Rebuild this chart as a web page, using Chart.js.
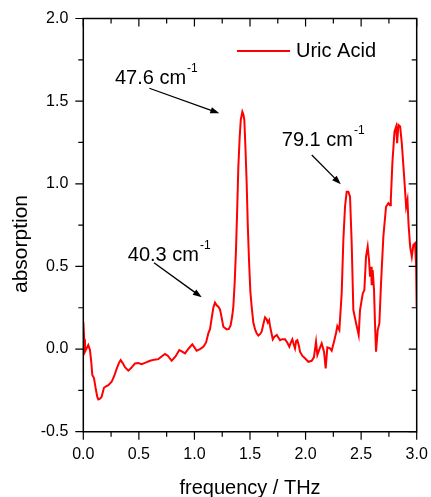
<!DOCTYPE html>
<html>
<head>
<meta charset="utf-8">
<script src="https://cdn.jsdelivr.net/npm/chart.js@4.4.1/dist/chart.umd.min.js"></script>
<style>
  html, body { margin: 0; padding: 0; background: #ffffff; }
  #wrap { width: 431px; height: 497px; }
</style>
</head>
<body>
<div id="wrap"><canvas id="c" width="431" height="497"></canvas></div>
<script>
// THz absorption spectrum of uric acid
const freqTHz = [
  0.000, 0.008, 0.015, 0.030, 0.045, 0.060, 0.072, 0.081, 0.096, 0.114,
  0.126, 0.135, 0.150, 0.165, 0.186, 0.205, 0.225, 0.255, 0.280, 0.300,
  0.320, 0.336, 0.355, 0.375, 0.405, 0.430, 0.465, 0.495, 0.525, 0.560,
  0.600, 0.640, 0.675, 0.705, 0.735, 0.760, 0.795, 0.830, 0.864, 0.890,
  0.915, 0.950, 0.981, 1.000, 1.020, 1.050, 1.080, 1.105, 1.125, 1.140,
  1.155, 1.170, 1.185, 1.200, 1.215, 1.230, 1.245, 1.260, 1.290, 1.310,
  1.326, 1.340, 1.350, 1.362, 1.374, 1.385, 1.395, 1.407, 1.417, 1.431,
  1.440, 1.449, 1.460, 1.470, 1.480, 1.491, 1.503, 1.515, 1.530, 1.545,
  1.560, 1.575, 1.590, 1.605, 1.620, 1.635, 1.650, 1.660, 1.672, 1.680,
  1.692, 1.705, 1.720, 1.741, 1.755, 1.770, 1.790, 1.815, 1.835, 1.854,
  1.868, 1.881, 1.893, 1.905, 1.915, 1.926, 1.940, 1.950, 1.970, 1.995,
  2.025, 2.055, 2.075, 2.094, 2.106, 2.125, 2.145, 2.166, 2.181, 2.196,
  2.220, 2.235, 2.259, 2.275, 2.286, 2.304, 2.325, 2.340, 2.355, 2.370,
  2.385, 2.400, 2.415, 2.430, 2.455, 2.478, 2.490, 2.515, 2.529, 2.544,
  2.559, 2.571, 2.580, 2.589, 2.595, 2.604, 2.616, 2.625, 2.634, 2.649,
  2.664, 2.679, 2.700, 2.724, 2.745, 2.760, 2.767, 2.781, 2.800, 2.815,
  2.824, 2.835, 2.851, 2.866, 2.887, 2.905, 2.917, 2.926, 2.941, 2.956,
  2.970, 2.985, 2.995, 3.000
];
const absorption = [
  0.165, 0.060, -0.016, 0.005, 0.024, -0.006, -0.080, -0.157, -0.175, -0.248,
  -0.290, -0.305, -0.300, -0.289, -0.234, -0.225, -0.218, -0.198, -0.160, -0.120,
  -0.085, -0.067, -0.085, -0.110, -0.131, -0.115, -0.087, -0.085, -0.091, -0.082,
  -0.071, -0.064, -0.061, -0.045, -0.030, -0.040, -0.071, -0.045, -0.006, -0.015,
  -0.026, 0.005, 0.028, 0.010, -0.010, 0.000, 0.014, 0.040, 0.095, 0.120,
  0.186, 0.250, 0.281, 0.265, 0.256, 0.240, 0.190, 0.135, 0.119, 0.122,
  0.145, 0.200, 0.256, 0.400, 0.600, 0.850, 1.100, 1.280, 1.386, 1.436,
  1.420, 1.386, 1.200, 1.003, 0.750, 0.539, 0.350, 0.256, 0.160, 0.120,
  0.095, 0.082, 0.090, 0.105, 0.150, 0.192, 0.180, 0.160, 0.175, 0.140,
  0.100, 0.059, 0.075, 0.085, 0.070, 0.054, 0.060, 0.059, 0.040, 0.014,
  0.040, 0.059, 0.030, 0.004, 0.048, 0.054, 0.020, -0.016, -0.040, -0.056,
  -0.077, -0.071, -0.050, 0.044, -0.036, 0.000, 0.034, -0.016, -0.117, 0.010,
  0.004, -0.010, 0.054, 0.100, 0.139, 0.115, 0.337, 0.660, 0.861, 0.952,
  0.952, 0.922, 0.640, 0.236, 0.155, 0.085, 0.236, 0.337, 0.357, 0.559,
  0.620, 0.539, 0.438, 0.498, 0.387, 0.478, 0.357, 0.150, -0.016, 0.115,
  0.155, 0.398, 0.680, 0.861, 0.882, 0.870, 0.902, 1.124, 1.315, 1.346,
  1.245, 1.356, 1.346, 1.245, 1.043, 0.861, 0.902, 0.761, 0.620, 0.559,
  0.630, 0.640, 0.500, 0.256
];
const xTicks = [0, 0.5, 1.0, 1.5, 2.0, 2.5, 3.0];
const yTicks = [-0.5, 0, 0.5, 1.0, 1.5, 2.0];
const peakLabels = ['40.3', '47.6', '79.1'];
const seriesName = 'Uric Acid';

// label placement and arrow ends, in axis units
const notes = [
  { text: peakLabels[0], at: [0.40, 0.530], from: [0.636, 0.522], to: [1.066, 0.313] },
  { text: peakLabels[1], at: [0.285, 1.604], from: [0.594, 1.578], to: [1.224, 1.427] },
  { text: peakLabels[2], at: [1.786, 1.226], from: [2.056, 1.174], to: [2.317, 0.997] }
];

const FONT = "'Liberation Sans', Arial, sans-serif";
const points = freqTHz.map((f, i) => ({ x: f, y: absorption[i] }));

// frame, mirrored ticks, titles, legend and peak notes
const decor = {
  id: 'decor',
  afterDraw(chart) {
    const { ctx, chartArea: a, scales: { x, y } } = chart;
    ctx.save();
    ctx.strokeStyle = '#000';
    ctx.lineWidth = 1.5;
    ctx.beginPath();
    ctx.rect(a.left, a.top, a.right - a.left, a.bottom - a.top);
    ctx.stroke();

    ctx.lineWidth = 1.2;
    ctx.beginPath();
    for (let v = 0; v <= 3.0001; v += 0.25) {
      const px = x.getPixelForValue(v);
      const len = Math.abs(v * 2 - Math.round(v * 2)) < 1e-6 ? 8 : 5;
      ctx.moveTo(px, a.bottom); ctx.lineTo(px, a.bottom + len);
      ctx.moveTo(px, a.top); ctx.lineTo(px, a.top + len);
    }
    for (let v = -0.5; v <= 2.0001; v += 0.25) {
      const py = y.getPixelForValue(v);
      const len = Math.abs(v * 2 - Math.round(v * 2)) < 1e-6 ? 8 : 5;
      ctx.moveTo(a.left, py); ctx.lineTo(a.left - len, py);
      ctx.moveTo(a.right, py); ctx.lineTo(a.right - len, py);
    }
    ctx.stroke();

    // axis titles
    ctx.fillStyle = '#000';
    ctx.font = '20px ' + FONT;
    ctx.textAlign = 'center';
    ctx.textBaseline = 'alphabetic';
    ctx.fillText('frequency / THz', (a.left + a.right) / 2, 494);
    ctx.save();
    ctx.translate(27, 244);
    ctx.rotate(-Math.PI / 2);
    ctx.font = '21px ' + FONT;
    ctx.fillText('absorption', 0, 0);
    ctx.restore();

    // legend
    const ds = chart.data.datasets[0];
    ctx.strokeStyle = ds.borderColor;
    ctx.lineWidth = 2;
    ctx.beginPath();
    ctx.moveTo(237, 51); ctx.lineTo(290, 51);
    ctx.stroke();
    ctx.textAlign = 'left';
    ctx.textBaseline = 'middle';
    ctx.fillText(ds.label, 296, 51);

    // peak notes with arrows
    ctx.textBaseline = 'alphabetic';
    notes.forEach(n => {
      const tx = x.getPixelForValue(n.at[0]);
      const ty = y.getPixelForValue(n.at[1]);
      ctx.font = '20px ' + FONT;
      const main = n.text + ' cm';
      ctx.fillText(main, tx, ty);
      const w = ctx.measureText(main).width;
      ctx.font = '12px ' + FONT;
      ctx.fillText('-1', tx + w + 1, ty - 12);

      const x0 = x.getPixelForValue(n.from[0]), y0 = y.getPixelForValue(n.from[1]);
      const x1 = x.getPixelForValue(n.to[0]), y1 = y.getPixelForValue(n.to[1]);
      const ang = Math.atan2(y1 - y0, x1 - x0);
      const hl = 9, hw = 3.2;
      ctx.strokeStyle = '#000';
      ctx.lineWidth = 1.3;
      ctx.beginPath();
      ctx.moveTo(x0, y0);
      ctx.lineTo(x1 - Math.cos(ang) * hl * 0.8, y1 - Math.sin(ang) * hl * 0.8);
      ctx.stroke();
      ctx.beginPath();
      ctx.moveTo(x1, y1);
      ctx.lineTo(x1 - Math.cos(ang) * hl - Math.sin(ang) * hw, y1 - Math.sin(ang) * hl + Math.cos(ang) * hw);
      ctx.lineTo(x1 - Math.cos(ang) * hl + Math.sin(ang) * hw, y1 - Math.sin(ang) * hl - Math.cos(ang) * hw);
      ctx.closePath();
      ctx.fillStyle = '#000';
      ctx.fill();
    });
    ctx.restore();
  }
};

new Chart(document.getElementById('c'), {
  type: 'scatter',
  data: {
    datasets: [{
      label: seriesName,
      data: points,
      showLine: true,
      borderColor: '#ff0000',
      borderWidth: 2,
      pointRadius: 0,
      tension: 0,
      fill: false
    }]
  },
  options: {
    responsive: false,
    devicePixelRatio: 1,
    animation: false,
    layout: { padding: { top: 18.5, right: 14.3, left: 0, bottom: 0 } },
    plugins: { legend: { display: false }, tooltip: { enabled: false } },
    scales: {
      x: {
        type: 'linear', min: 0, max: 3,
        afterBuildTicks: s => { s.ticks = xTicks.map(v => ({ value: v })); },
        afterFit: s => { s.height = 65.3; s.paddingLeft = 0; s.paddingRight = 0; },
        grid: { display: false, drawTicks: false },
        border: { display: false },
        ticks: {
          padding: 13, color: '#000', maxRotation: 0,
          font: { family: FONT, size: 16 },
          callback: v => Number(v).toFixed(1)
        }
      },
      y: {
        type: 'linear', min: -0.5, max: 2.0,
        afterBuildTicks: s => { s.ticks = yTicks.map(v => ({ value: v })); },
        afterFit: s => { s.width = 83.3; s.paddingTop = 0; s.paddingBottom = 0; },
        grid: { display: false, drawTicks: false },
        border: { display: false },
        ticks: {
          padding: 15, color: '#000',
          font: { family: FONT, size: 16 },
          callback: v => Number(v).toFixed(1)
        }
      }
    }
  },
  plugins: [decor]
});
</script>
</body>
</html>
